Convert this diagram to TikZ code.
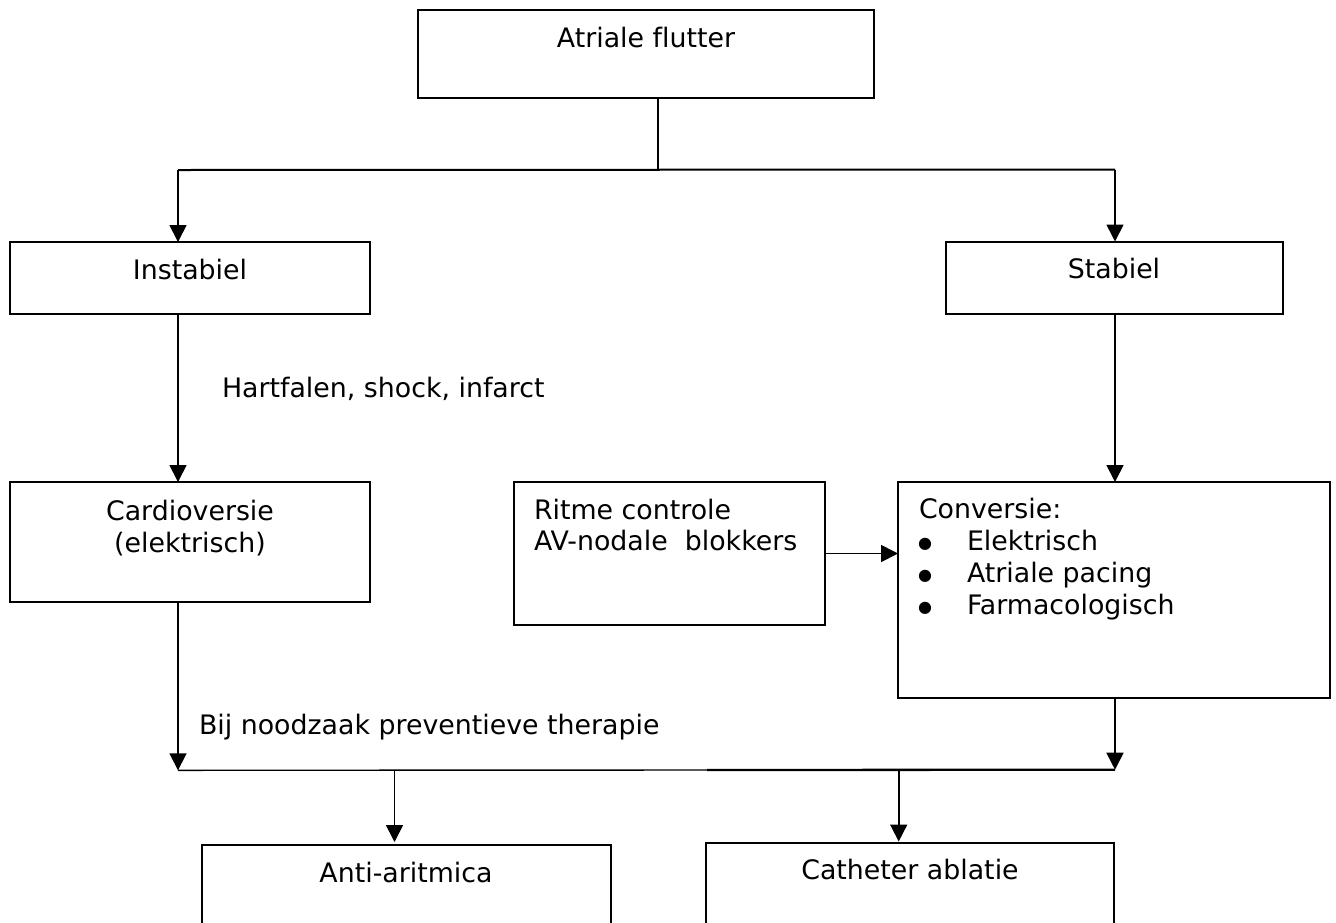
\documentclass[tikz,border=0pt]{standalone}
\usepackage{fontspec}
\setmainfont[Ligatures=NoCommon]{DejaVu Sans}
\usetikzlibrary{arrows.meta}
\begin{document}
\begin{tikzpicture}[x=1pt,y=-1pt,
  box/.style={draw=black,line width=2pt,inner sep=0pt,outer sep=0pt,fill=none},
  txt/.style={inner sep=0pt,outer sep=0pt,font=\fontsize{26.8pt}{32pt}\selectfont},
  conn/.style={draw=black,line width=1.7pt},
  arr/.style={conn,-{Triangle[length=17pt,width=17pt]}},
  bul/.style={inner sep=0pt,outer sep=0pt,font=\fontsize{16pt}{16pt}\selectfont,anchor=base}]
\clip (0,0) rectangle (1336,922);
\fill[white] (0,0) rectangle (1336,922);
% boxes
\node[box,minimum width=456pt,minimum height=88pt] (top) at (646,53.7) {};
\node[box,minimum width=360pt,minimum height=71.5pt] (instab) at (190,277.75) {};
\node[box,minimum width=337pt,minimum height=72pt] (stab) at (1114.5,277.5) {};
\node[box,minimum width=360pt,minimum height=120pt] (cardio) at (190,542) {};
\node[box,minimum width=311pt,minimum height=143pt] (ritme) at (669.5,553.5) {};
\node[box,minimum width=432pt,minimum height=216pt] (conv) at (1114,590) {};
\node[box,minimum width=409pt,minimum height=115pt] (anti) at (406.5,902.5) {};
\node[box,minimum width=408pt,minimum height=117pt] (cath) at (910,901.5) {};
% texts
\node[txt,anchor=base] (ttop) at (646,47.7) {Atriale flutter};
\node[txt,anchor=base] (tinstab) at (190,279) {Instabiel};
\node[txt,anchor=base] (tstab) at (1114,278.7) {Stabiel};
\node[txt,anchor=base west] (thart) at (222,397) {Hartfalen, shock, infarct};
\node[txt,anchor=base] (tcardio1) at (190,520) {Cardioversie};
\node[txt,anchor=base] (tcardio2) at (190,552) {(elektrisch)};
\node[txt,anchor=base west] (tritme1) at (534,519) {Ritme controle};
\node[txt,anchor=base west] (tritme2) at (534,550) {AV-nodale\ \ blokkers};
\node[txt,anchor=base west] (tconv) at (919,518) {Conversie:};
\node[bul] (b1) at (925,548) {●};
\node[bul] (b2) at (925,580) {●};
\node[bul] (b3) at (925,612) {●};
\node[txt,anchor=base west] (tc1) at (967,550) {Elektrisch};
\node[txt,anchor=base west] (tc2) at (967,582) {Atriale pacing};
\node[txt,anchor=base west] (tc3) at (967,614) {Farmacologisch};
\node[txt,anchor=base west] (tbij) at (199,734) {Bij noodzaak preventieve therapie};
\node[txt,anchor=base] (tanti) at (406,882) {Anti-aritmica};
\node[txt,anchor=base] (tcath) at (910,879.3) {Catheter ablatie};
% junction coordinates
\coordinate (j1) at (658,170);
\coordinate (jl) at (178,170);
\coordinate (jr) at (1115,169.5);
\coordinate (bl) at (178,770.3);
\coordinate (bm) at (707,770);
\coordinate (br) at (1115,769.7);
\coordinate (ca) at (394.5,770.3);
\coordinate (cb) at (898.7,769.7);
% connectors
\draw[conn] (top.south -| j1) -- (j1);
\draw[conn,line width=2pt] (jl) -- (jr);
\draw[arr] (jl) -- (jl |- instab.north);
\draw[arr] (jr) -- (jr |- stab.north);
\draw[arr] (jl |- instab.south) -- (jl |- cardio.north);
\draw[arr] (jr |- stab.south) -- (jr |- conv.north);
\draw[arr] (ritme.east) -- (ritme.east -| conv.west);
\draw[arr] (jl |- cardio.south) -- (bl);
\draw[arr] (jr |- conv.south) -- (br);
\draw[conn,line width=1.4pt] (bl) -- (bm);
\draw[conn,line width=2.3pt] (bm) -- (br);
\draw[arr,shorten >=3pt] (ca) -- (ca |- anti.north);
\draw[arr,shorten >=1.5pt] (cb) -- (cb |- cath.north);
\end{tikzpicture}
\end{document}
